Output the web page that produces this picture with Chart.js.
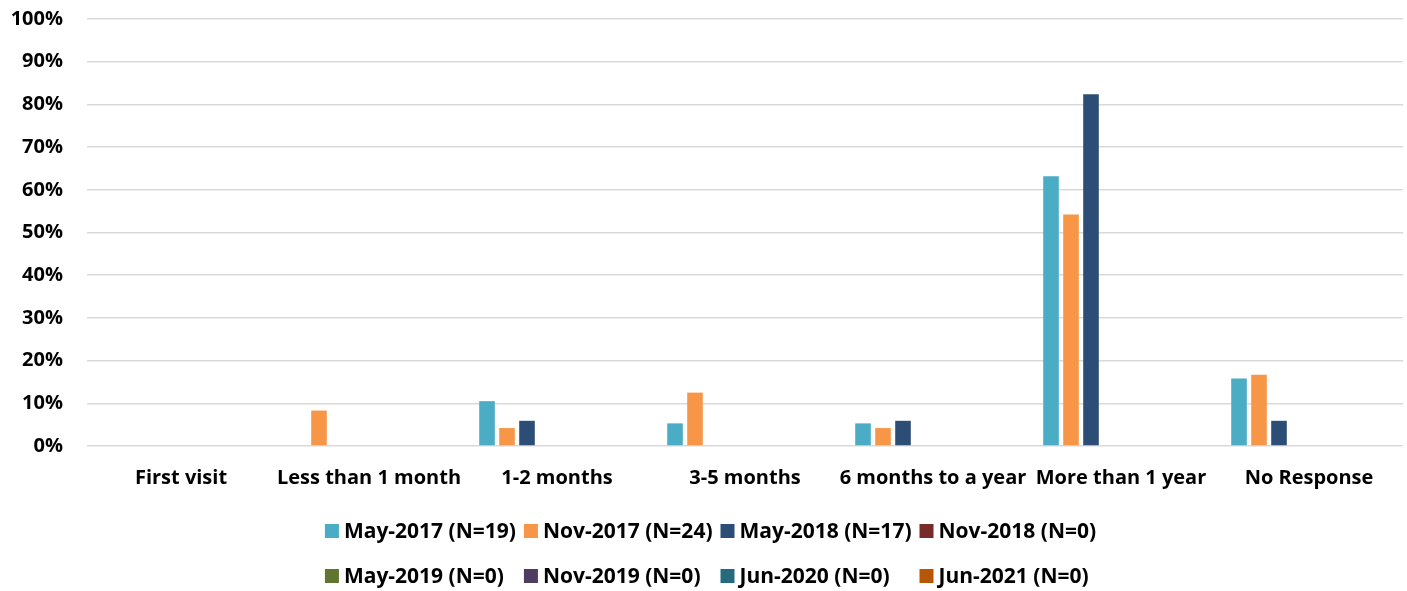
<!DOCTYPE html>
<html>
<head>
<meta charset="utf-8">
<script src="https://cdn.jsdelivr.net/npm/chart.js@4/dist/chart.umd.min.js"></script>
<style>
  html, body { margin: 0; padding: 0; background: #ffffff; }
  #wrap { width: 1407px; height: 591px; position: relative; }
</style>
</head>
<body>
<div id="wrap"><canvas id="c" width="1407" height="591"></canvas></div>
<script>
const categories = ["First visit", "Less than 1 month", "1-2 months", "3-5 months", "6 months to a year", "More than 1 year", "No Response"];
const seriesLabels = ["May-2017 (N=19)", "Nov-2017 (N=24)", "May-2018 (N=17)", "Nov-2018 (N=0)", "May-2019 (N=0)", "Nov-2019 (N=0)", "Jun-2020 (N=0)", "Jun-2021 (N=0)"];
const may2017 = [0, 0, 10.5, 5.3, 5.3, 63.2, 15.8];
const nov2017 = [0, 8.3, 4.2, 12.5, 4.2, 54.2, 16.7];
const may2018 = [0, 0, 5.9, 0, 5.9, 82.4, 5.9];
const nov2018 = [null, null, null, null, null, null, null];
const may2019 = [null, null, null, null, null, null, null];
const nov2019 = [null, null, null, null, null, null, null];
const jun2020 = [null, null, null, null, null, null, null];
const jun2021 = [null, null, null, null, null, null, null];
const yTicks = [0, 10, 20, 30, 40, 50, 60, 70, 80, 90, 100];
const colors = ["#4BACC6", "#F79646", "#2C4D75", "#772C2A", "#5F7530", "#4D3B62", "#276A7C", "#B65708"];

const seriesValues = [may2017, nov2017, may2018, nov2018, may2019, nov2019, jun2020, jun2021];
const FONT = "'Open Sans', 'Noto Sans', sans-serif";
const FSIZE = 20;
const LSIZE = 21;

const gridLegend = {
  id: 'gridLegend',
  afterDraw(chart) {
    const ctx = chart.ctx;
    const perRow = 4, box = 14, gap = 5, colSpace = 8;
    const rowY = [chart.chartArea.bottom + 85, chart.chartArea.bottom + 130];
    ctx.save();
    ctx.font = `bold ${LSIZE}px ${FONT}`;
    ctx.textBaseline = 'middle';
    ctx.textAlign = 'left';
    const ds = chart.data.datasets;
    const widths = ds.map(d => box + gap + ctx.measureText(d.label).width);
    const colW = [];
    for (let c = 0; c < perRow; c++) {
      let m = 0;
      for (let i = c; i < ds.length; i += perRow) m = Math.max(m, widths[i]);
      colW.push(m + colSpace);
    }
    const total = colW.reduce((a, b) => a + b, 0) - colSpace;
    const startX = chart.width / 2 + 7 - total / 2;
    ds.forEach((d, i) => {
      const r = Math.floor(i / perRow), c = i % perRow;
      let x = startX;
      for (let k = 0; k < c; k++) x += colW[k];
      const y = rowY[r];
      ctx.fillStyle = d.backgroundColor;
      ctx.fillRect(x, y - box / 2, box, box);
      ctx.fillStyle = '#000000';
      ctx.fillText(d.label, x + box + gap, y + 1);
    });
    ctx.restore();
  }
};

new Chart(document.getElementById('c'), {
  type: 'bar',
  data: {
    labels: categories,
    datasets: seriesLabels.map((lab, i) => ({
      label: lab,
      data: seriesValues[i],
      backgroundColor: colors[i],
      borderWidth: 0,
      categoryPercentage: 0.851,
      barPercentage: 0.78
    }))
  },
  options: {
    responsive: false,
    animation: false,
    layout: { padding: { left: 11, right: 4, top: 19, bottom: 81 } },
    plugins: {
      legend: { display: false },
      tooltip: { enabled: false }
    },
    scales: {
      x: {
        grid: { display: false, drawTicks: false },
        border: { display: false },
        ticks: {
          color: '#000000',
          padding: 20,
          maxRotation: 0,
          autoSkip: false,
          font: { family: FONT, size: FSIZE, weight: 'bold' }
        }
      },
      y: {
        min: 0,
        max: 100,
        afterBuildTicks(scale) { scale.ticks = yTicks.map(v => ({ value: v })); },
        afterFit(scale) { scale.width = 76; scale.paddingTop = 0; },
        grid: { color: '#D9D9D9', lineWidth: 1.5, drawTicks: false },
        border: { display: false },
        ticks: {
          color: '#000000',
          padding: 24,
          font: { family: FONT, size: FSIZE, weight: 'bold' },
          callback: v => v + '%'
        }
      }
    }
  },
  plugins: [gridLegend]
});
</script>
</body>
</html>
